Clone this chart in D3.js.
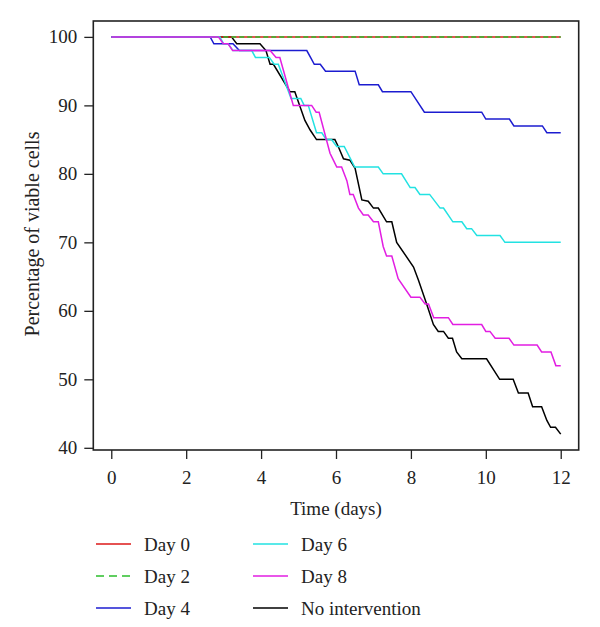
<!DOCTYPE html>
<html>
<head>
<meta charset="utf-8">
<script src="https://cdn.jsdelivr.net/npm/d3@7"></script>
<style>
    body { margin: 0; background: #fff; }
    text { font-family: 'Liberation Serif', 'Times New Roman', serif; }
</style>
</head>
<body>
<div id="chart"></div>
<script>
// series: [time (days), percentage of viable cells]
var day0 = [[0, 100], [12, 100]];
var day2 = [[0, 100], [12, 100]];
var day4 = [[0, 100], [2.64, 100], [2.74, 99], [3.25, 99], [3.42, 98], [5.22, 98], [5.32, 97], [5.42, 96],
    [5.58, 96], [5.72, 95], [6.51, 95], [6.62, 93], [7.13, 93], [7.24, 92], [8.0, 92], [8.36, 89],
    [9.89, 89], [10.0, 88], [10.63, 88], [10.75, 87], [11.51, 87], [11.63, 86], [12, 86]];
var day6 = [[0, 100], [2.9, 100], [3.0, 99], [3.12, 99], [3.25, 98], [3.75, 98], [3.85, 97], [4.22, 97],
    [4.35, 96], [4.46, 96], [4.8, 91], [5.06, 91], [5.15, 90], [5.26, 90], [5.48, 86], [5.62, 86],
    [5.74, 85], [5.88, 85], [6.02, 84], [6.22, 84], [6.5, 81], [7.13, 81], [7.26, 80], [7.75, 80],
    [7.98, 78], [8.11, 78], [8.24, 77], [8.5, 77], [8.78, 75], [8.87, 75], [9.12, 73], [9.36, 73],
    [9.49, 72], [9.62, 72], [9.76, 71], [10.38, 71], [10.51, 70], [12, 70]];
var day8 = [[0, 100], [2.86, 100], [2.99, 99], [3.12, 99], [3.24, 98], [4.24, 98], [4.4, 97], [4.5, 97],
    [4.86, 90], [5.35, 90], [5.47, 89], [5.55, 89], [5.84, 83], [5.93, 82], [6.02, 81], [6.15, 81],
    [6.29, 79], [6.37, 77], [6.46, 77], [6.6, 75], [6.73, 74], [6.86, 74], [7.0, 73], [7.13, 73],
    [7.26, 69.4], [7.35, 68], [7.49, 68], [7.66, 64.7], [8.0, 62], [8.24, 62], [8.38, 61], [8.47, 61],
    [8.61, 59], [9.0, 59], [9.12, 58], [9.89, 58], [10.0, 57], [10.11, 57], [10.25, 56], [10.62, 56],
    [10.75, 55], [11.37, 55], [11.49, 54], [11.74, 54], [11.87, 52], [12, 52]];
var noIntervention = [[0, 100], [3.21, 100], [3.35, 99], [3.97, 99], [4.13, 98], [4.24, 96], [4.33, 96],
    [4.77, 92], [4.9, 92], [5.17, 87.8], [5.31, 86.4], [5.48, 85], [5.97, 85], [6.06, 84], [6.2, 82.2],
    [6.37, 82], [6.51, 80.8], [6.69, 76.2], [6.86, 76], [7.0, 75], [7.13, 75], [7.35, 73], [7.49, 73],
    [7.62, 70], [8.07, 66.4], [8.2, 64.5], [8.42, 61], [8.6, 58], [8.73, 57], [8.87, 57], [9.0, 56],
    [9.11, 56], [9.22, 54], [9.36, 53], [10.02, 53], [10.37, 50], [10.73, 50], [10.87, 48], [11.13, 48],
    [11.25, 46], [11.49, 46], [11.63, 44], [11.73, 43], [11.86, 43], [12, 42]];

var seriesNames = ['Day 0', 'Day 2', 'Day 4', 'Day 6', 'Day 8', 'No intervention'];
var seriesData = [day0, day2, day4, day6, day8, noIntervention];
var seriesColors = ['#dd1818', '#2cbf2c', '#1c1cd0', '#22e2e2', '#e21ee2', '#000000'];
var seriesDash = [null, '5,3', null, null, null, null];
// order the lines are painted in (first = bottom)
var drawOrder = [5, 0, 1, 2, 3, 4];

var xTicks = [0, 2, 4, 6, 8, 10, 12];
var yTicks = [40, 50, 60, 70, 80, 90, 100];

var width = 600, height = 627;
var box = {left: 93.3, right: 578.7, top: 21, bottom: 450};
var fontSize = '19px';

var svg = d3.select('#chart')
    .append('svg')
    .attr('width', width)
    .attr('height', height);

// R style: data range padded by 4%
var x = d3.scaleLinear()
    .domain([-0.48, 12.48])
    .range([box.left, box.right]);
var y = d3.scaleLinear()
    .domain([39.68, 102.32])
    .range([box.bottom, box.top]);

// axes
var xAxis = svg.append('g')
    .attr('transform', 'translate(0,' + box.bottom + ')')
    .call(d3.axisBottom(x).tickValues(xTicks).tickSize(9).tickPadding(12).tickSizeOuter(0))
    .call(g => g.select('.domain').remove());
var yAxis = svg.append('g')
    .attr('transform', 'translate(' + box.left + ',0)')
    .call(d3.axisLeft(y).tickValues(yTicks).tickSize(9).tickPadding(7).tickSizeOuter(0))
    .call(g => g.select('.domain').remove());

svg.selectAll('.tick line').style('stroke', '#222').style('stroke-width', 1.3);
svg.selectAll('.tick text')
    .style('font-family', "'Liberation Serif', serif")
    .style('font-size', fontSize)
    .style('fill', '#222');

// lines
var line = d3.line()
    .x(function (d) { return x(d[0]); })
    .y(function (d) { return y(d[1]); });

svg.append('g')
    .selectAll('path')
    .data(drawOrder)
    .enter()
    .append('path')
    .attr('d', function (i) { return line(seriesData[i]); })
    .style('fill', 'none')
    .style('stroke', function (i) { return seriesColors[i]; })
    .style('stroke-width', 1.5)
    .style('stroke-dasharray', function (i) { return seriesDash[i]; });

// frame
svg.append('rect')
    .attr('x', box.left)
    .attr('y', box.top)
    .attr('width', box.right - box.left)
    .attr('height', box.bottom - box.top)
    .style('fill', 'none')
    .style('stroke', '#222')
    .style('stroke-width', 1.6);

// axis labels
svg.append('text')
    .attr('x', (box.left + box.right) / 2)
    .attr('y', 515)
    .attr('text-anchor', 'middle')
    .style('font-size', fontSize)
    .style('fill', '#222')
    .text('Time (days)');

svg.append('text')
    .attr('transform', 'translate(39,' + 234 + ') rotate(-90)')
    .attr('text-anchor', 'middle')
    .style('font-size', '20px')
    .style('fill', '#222')
    .text('Percentage of viable cells');

// legend, two columns of three
var legend = svg.append('g')
    .selectAll('g')
    .data(seriesNames)
    .enter()
    .append('g')
    .attr('transform', function (d, i) {
        var col = Math.floor(i / 3), row = i % 3;
        return 'translate(' + (96 + col * 157) + ',' + (544 + row * 32) + ')';
    });

legend.append('line')
    .attr('x1', 0)
    .attr('x2', 35)
    .style('stroke', function (d, i) { return seriesColors[i]; })
    .style('stroke-width', 1.5)
    .style('stroke-dasharray', function (d, i) { return seriesDash[i] ? '8,5' : null; });

legend.append('text')
    .attr('x', 48)
    .attr('dy', '0.35em')
    .style('font-size', fontSize)
    .style('fill', '#222')
    .text(function (d) { return d; });
</script>
</body>
</html>
